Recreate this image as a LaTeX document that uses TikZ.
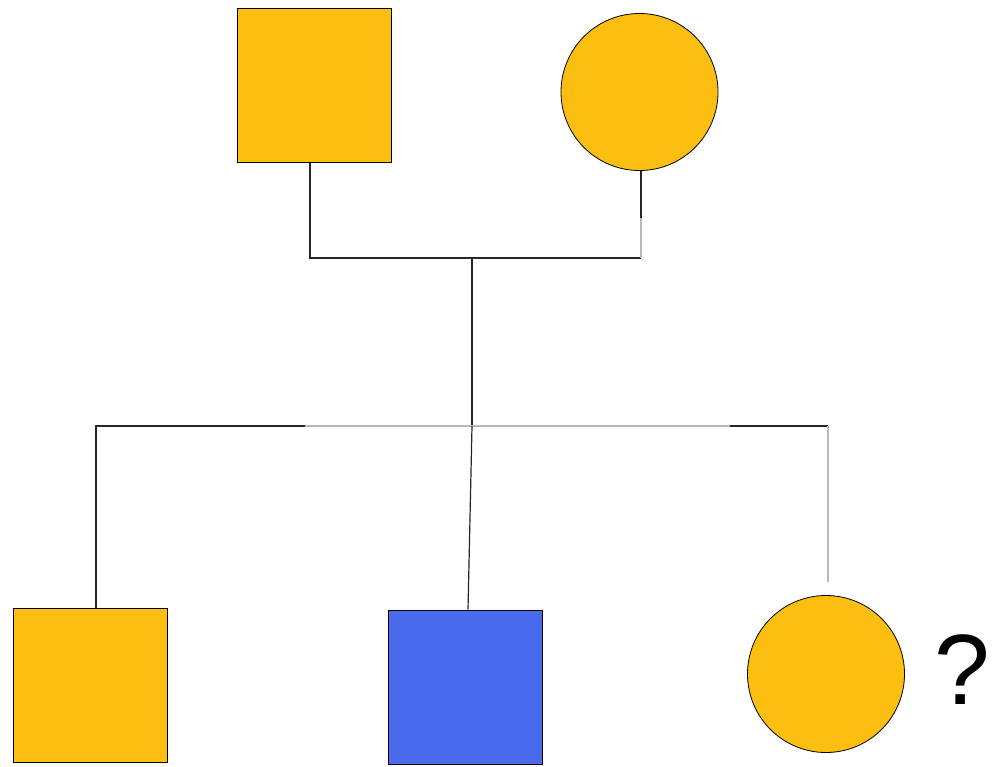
\documentclass[tikz,border=0pt]{standalone}
\usepackage{fontspec}
\setmainfont{Liberation Sans}
\definecolor{gold}{HTML}{FCBE10}
\definecolor{bluesq}{HTML}{4B6BEE}
\begin{document}
\begin{tikzpicture}[x=1pt,y=-1pt,
  male/.style={rectangle,draw=black,line width=1pt,minimum size=154pt,inner sep=0pt},
  female/.style={circle,draw=black,line width=0.8pt,minimum size=157pt,inner sep=0pt,fill=gold},
  link/.style={draw=black!85,line width=1.2pt},
  faint/.style={draw=black!28,line width=1.2pt}]
\useasboundingbox[fill=white] (0,0) rectangle (993,766);
% parents
\node[male,fill=gold] (f) at (314.5,85.5) {};
\node[female] (m) at (639.5,92) {};
% children
\node[male,fill=gold] (c1) at (90,685) {};
\node[male,fill=bluesq] (c2) at (465,687) {};
\node[female] (c3) at (826,674) {};
\node[font=\fontsize{100}{100}\selectfont,inner sep=0pt] (q) at (962,670) {?};
% junctions
\coordinate (fm) at (472,258);
\coordinate (mb) at (641,258);
\coordinate (mk) at (641,218);
\coordinate (kids) at (472,426);
\coordinate (kl) at (305,426);
\coordinate (kr) at (730,426);
\coordinate (kc) at (828,426);
\coordinate (c3top) at (828,582);
% connectors
\draw[link] ([xshift=-4.5pt]f.south) |- (mb);
\draw[link] ([xshift=1.5pt]m.south) -- (mk);
\draw[faint] (mk) -- (mb);
\draw[link] (fm) -- (kids);
\draw[faint] (kids) -- (kl);
\draw[link] (kl) -| ([xshift=6pt]c1.north);
\draw[faint] (kids) -- (kr);
\draw[link] (kr) -- (kc);
\draw[faint] (kc) -- (c3top);
\draw[link] (kids) -- ([xshift=3pt]c2.north);
\end{tikzpicture}
\end{document}
